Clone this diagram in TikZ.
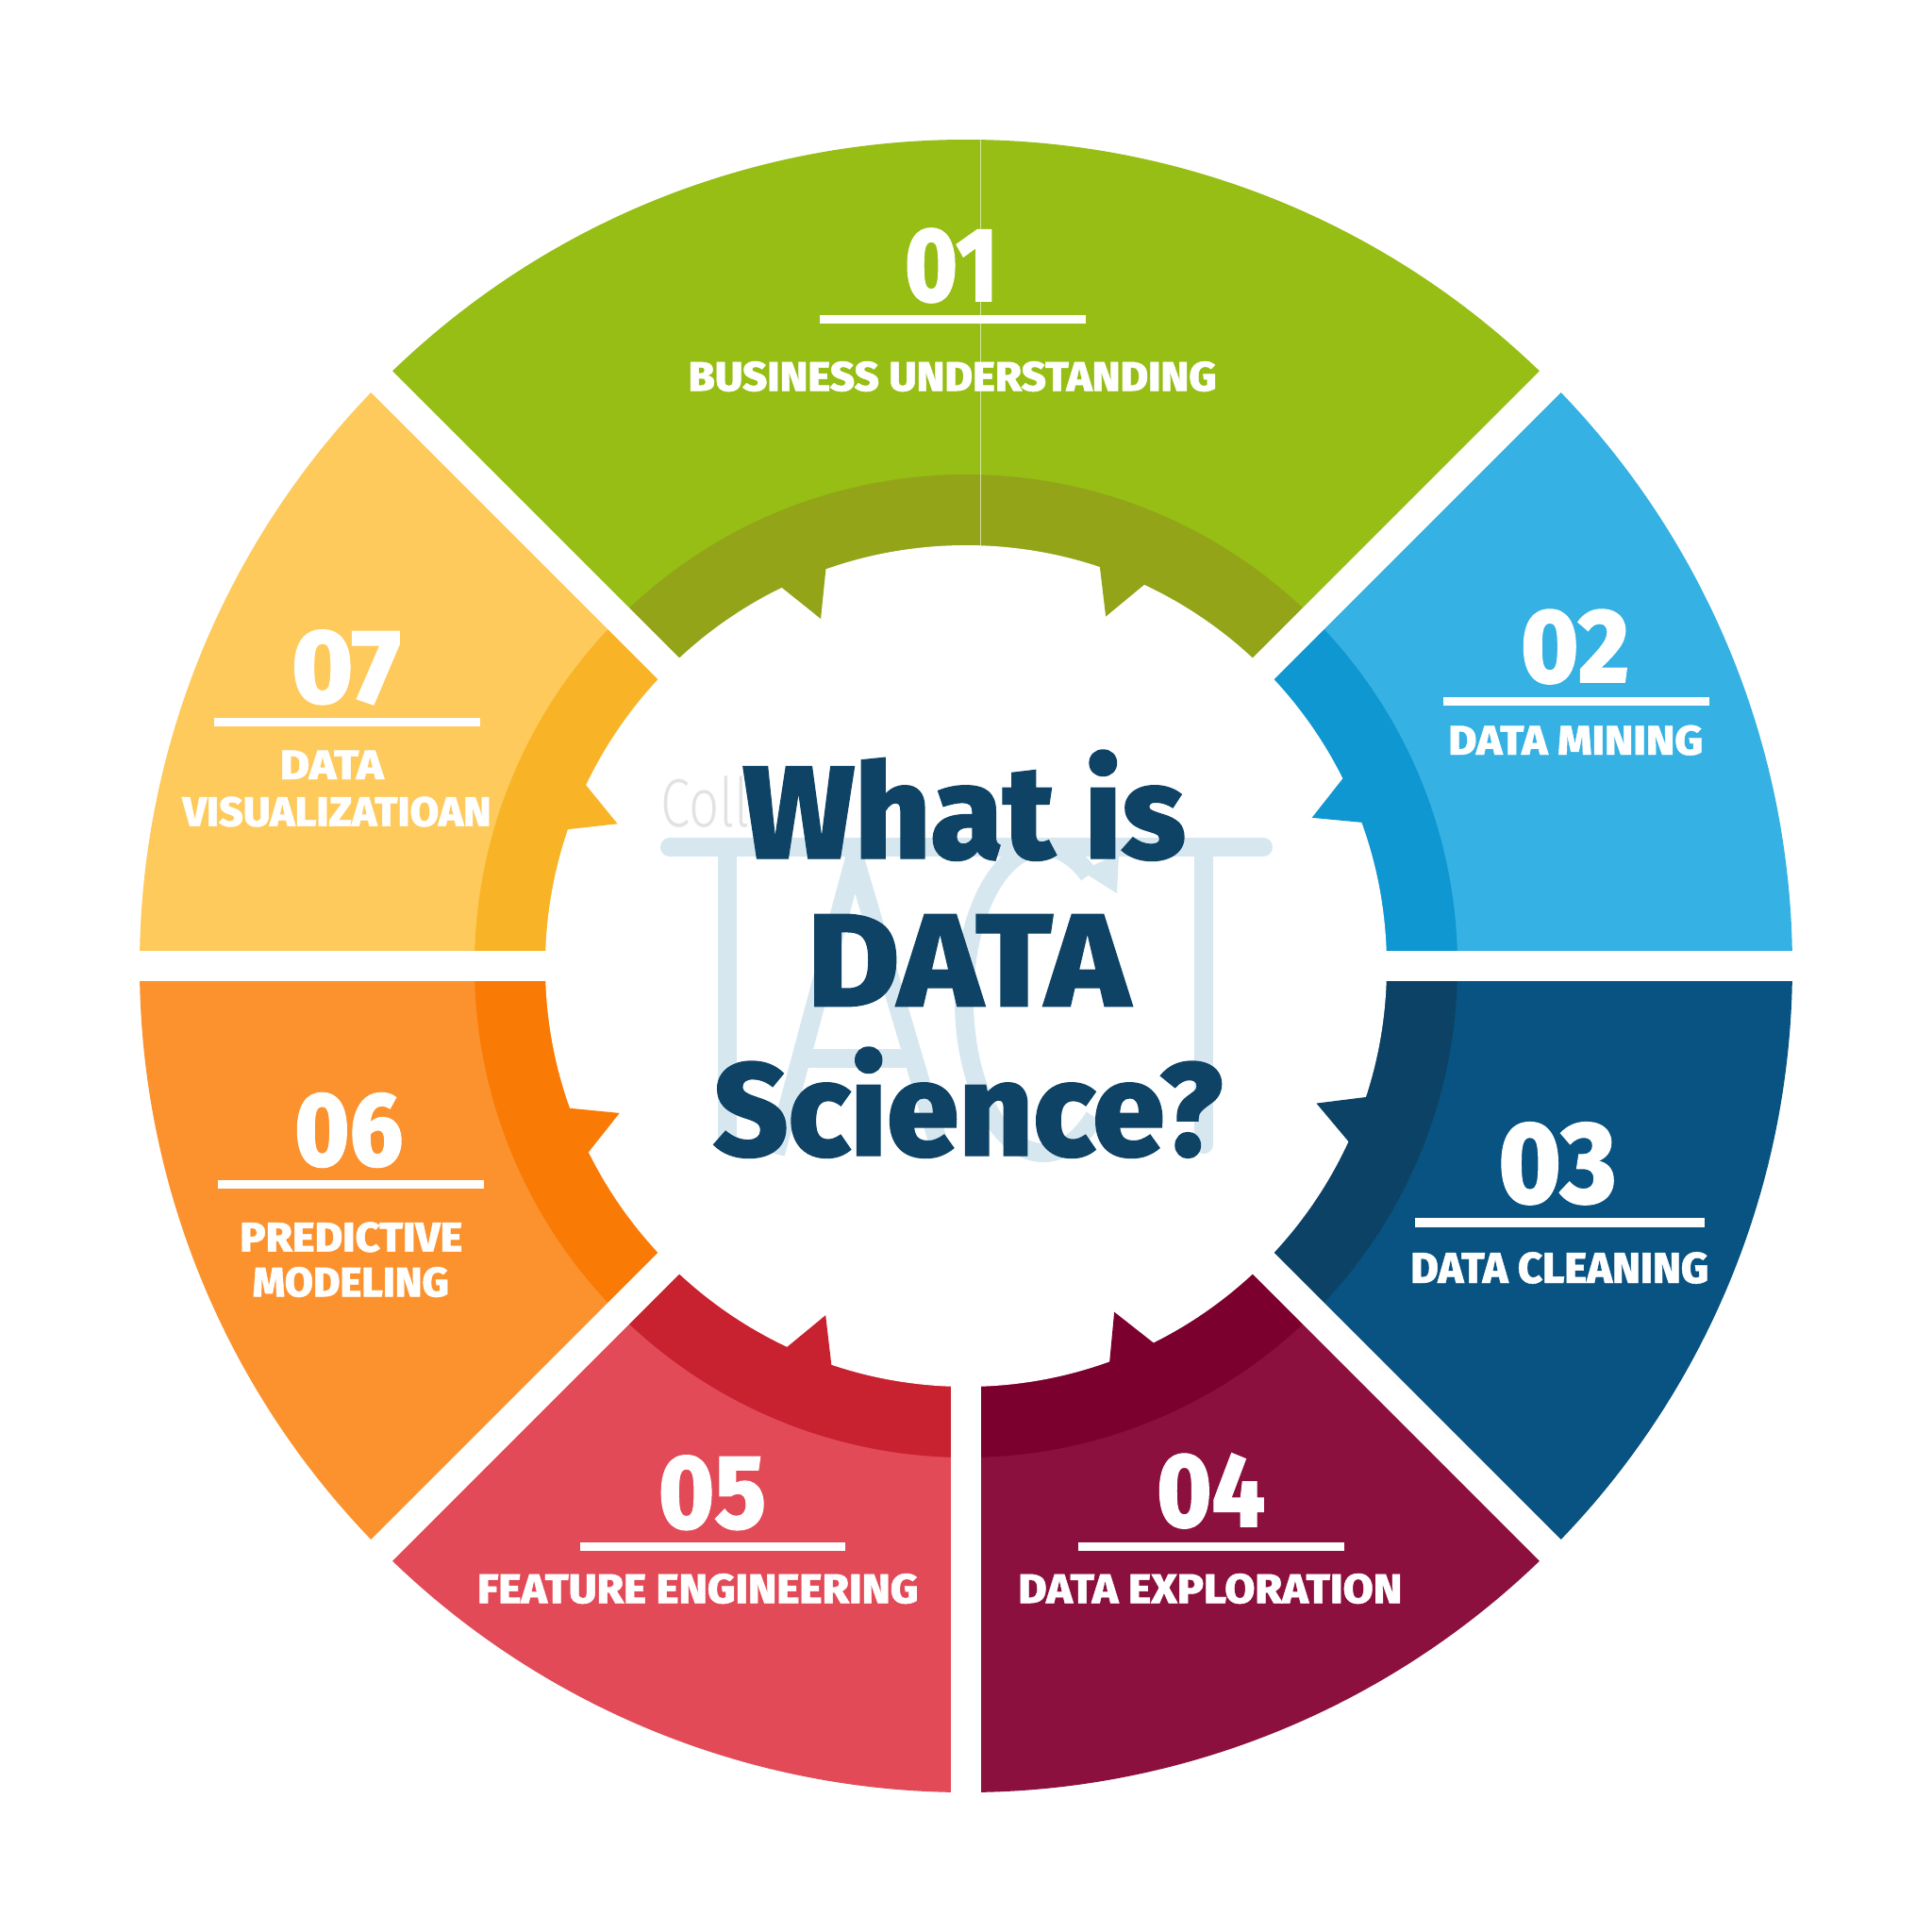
\documentclass[tikz,border=0pt]{standalone}
\usepackage{fontspec}
\usepackage{graphicx}
\setmainfont{Fira Sans}
\IfFontExistsTF{Fira Sans Heavy}{\newfontfamily\heavyfont{Fira Sans Heavy}}{%
 \IfFontExistsTF{FiraSans-Heavy.otf}{\newfontfamily\heavyfont{FiraSans-Heavy.otf}}{%
  \IfFontExistsTF{Fira Sans ExtraBold}{\newfontfamily\heavyfont{Fira Sans ExtraBold}[FakeBold=1]}{%
   \newfontfamily\heavyfont{Fira Sans}[UprightFont={* Bold}, UprightFeatures={FakeBold=2}]}}}
\IfFontExistsTF{Fira Sans Light}{\newfontfamily\lightfont{Fira Sans Light}}{\newfontfamily\lightfont{Fira Sans}}
\definecolor{g1}{HTML}{96BE14}\definecolor{g1d}{HTML}{93A419}
\definecolor{b2}{HTML}{35B1E3}\definecolor{b2d}{HTML}{0E97D0}
\definecolor{n3}{HTML}{085381}\definecolor{n3d}{HTML}{0C4266}
\definecolor{m4}{HTML}{8C103E}\definecolor{m4d}{HTML}{7C002E}
\definecolor{r5}{HTML}{E34A57}\definecolor{r5d}{HTML}{C8212F}
\definecolor{o6}{HTML}{FC922E}\definecolor{o6d}{HTML}{F97A05}
\definecolor{y7}{HTML}{FECA5C}\definecolor{y7d}{HTML}{F8B426}
\definecolor{navy}{HTML}{0E4366}
\definecolor{wmblue}{HTML}{D6E7F0}
\definecolor{wmgray}{HTML}{E2E2E2}
\newcommand\wfit[2]{\resizebox{#1}{\height}{#2}}
\tikzset{
  num/.style={text=white, inner sep=0, anchor=base, font={\heavyfont\fontsize{31.8pt}{32pt}\selectfont}},
  bignum/.style={num, font={\heavyfont\fontsize{35.1pt}{35pt}\selectfont}},
  lab/.style={text=white, inner sep=0, anchor=base, font={\heavyfont\fontsize{12.5pt}{13pt}\selectfont}},
  biglab/.style={lab, font={\heavyfont\fontsize{13.1pt}{13pt}\selectfont}},
  bar/.style={white, line width=0.09cm},
  ctext/.style={text=navy, inner sep=0, anchor=base, font={\heavyfont\fontsize{39.9pt}{40pt}\selectfont}},
  gap/.style={white, line width=0.32cm},
}
\begin{document}
\begin{tikzpicture}
\useasboundingbox (-10.24,-10.24) rectangle (10.24,10.24);
\fill[white] (-10.24,-10.24) rectangle (10.24,10.24);
% sectors
\foreach \a/\b/\cl/\cd in {45/135/g1/g1d, 0/45/b2/b2d, -45/0/n3/n3d, -90/-45/m4/m4d, -135/-90/r5/r5d, -180/-135/o6/o6d, 135/180/y7/y7d}{
  \fill[\cl] (0,0) -- (\a:8.76) arc[start angle=\a, end angle=\b, radius=8.76] -- cycle;
  \fill[\cd] (0,0) -- (\a:5.21) arc[start angle=\a, end angle=\b, radius=5.21] -- cycle;
}
\fill[white] (0,0) circle (4.46);
% teeth
\foreach \t/\cd in {112.7/g1d, 68.2/g1d, 23.2/b2d, -21.4/n3d, -66.8/m4d, -111.9/r5d, -157/o6d, 157.8/y7d}{
  \fill[\cd] (\t-3.6:4.52) -- (\t:3.99) -- (\t+3.6:4.52) -- cycle;
}
% gaps
\foreach \g in {0,45,135,180,225,270,315}{
  \draw[gap] (0,0) -- (\g:9.3);
}
% seam
\draw[white, opacity=0.6, line width=0.35pt] (0.155,4.457) -- (0.155,8.758);
% watermark
\node[anchor=base west, inner sep=0, text=wmgray, font={\lightfont\fontsize{20.6pt}{21pt}\selectfont}] (wmtext) at (-3.24,1.473) {\scalebox{0.78}[1]{Colla}};
\begin{scope}[wmblue, line width=0.2cm]
  \draw[line cap=round] (-3.14,1.26) -- (3.15,1.26);
  \draw[line cap=round] (-2.527,1.26) -- (-2.527,-1.89);
  \draw[line cap=round] (2.524,1.26) -- (2.524,-1.89);
  \draw[line join=round] (-2.02,-1.99) -- (-1.18,1.14) -- (-0.26,-1.99);
  \draw (-1.76,-0.98) -- (-0.55,-0.98);
  \draw (0.82,-0.36) ++(55:0.84 and 1.62) arc[start angle=55, end angle=310, x radius=0.84, y radius=1.62];
  \fill (1.22,1.01) -- (1.62,1.19) -- (1.60,0.77) -- cycle;
\end{scope}
% centre text
\node[ctext] (t1) at (-0.018,1.14) {\wfit{4.70cm}{What is}};
\node[ctext] (t2) at (0.027,-0.427) {\wfit{3.42cm}{DATA}};
\node[ctext] (t3) at (0.02,-2.01) {\wfit{5.40cm}{Science?}};
% 01
\node[num] (d1) at (-0.155,7.048) {\wfit{0.99cm}{01}};
\draw[bar] (-1.55,6.852) -- (1.27,6.852);
\node[lab] (l1) at (-0.142,6.097) {\wfit{5.60cm}{BUSINESS UNDERSTANDING}};
% 02
\node[num] (d2) at (6.455,3.007) {\wfit{1.15cm}{02}};
\draw[bar] (5.06,2.807) -- (7.877,2.807);
\node[lab] (l2) at (6.463,2.24) {\wfit{2.70cm}{DATA MINING}};
% 03
\node[bignum] (d3) at (6.268,-2.51) {\wfit{1.25cm}{03}};
\draw[bar, line width=0.097cm] (4.76,-2.718) -- (7.827,-2.718);
\node[biglab] (l3) at (6.293,-3.36) {\wfit{3.16cm}{DATA CLEANING}};
% 04
\node[num] (d4) at (2.597,-5.943) {\wfit{1.15cm}{04}};
\draw[bar] (1.187,-6.157) -- (4.009,-6.157);
\node[lab] (l4) at (2.588,-6.753) {\wfit{4.07cm}{DATA EXPLORATION}};
% 05
\node[num] (d5) at (-2.69,-5.96) {\wfit{1.14cm}{05}};
\draw[bar] (-4.091,-6.157) -- (-1.275,-6.157);
\node[lab] (l5) at (-2.841,-6.753) {\wfit{4.675cm}{FEATURE ENGINEERING}};
% 06
\node[num] (d6) at (-6.543,-2.117) {\wfit{1.15cm}{06}};
\draw[bar] (-7.933,-2.315) -- (-5.113,-2.315);
\node[lab] (l6a) at (-6.517,-3.027) {\wfit{2.36cm}{PREDICTIVE}};
\node[lab] (l6b) at (-6.522,-3.503) {\wfit{2.08cm}{MODELING}};
% 07
\node[num] (d7) at (-6.57,2.79) {\wfit{1.16cm}{07}};
\draw[bar] (-7.973,2.59) -- (-5.15,2.59);
\node[lab] (l7a) at (-6.723,1.98) {\wfit{1.10cm}{DATA}};
\node[lab] (l7b) at (-6.67,1.483) {\wfit{3.27cm}{VISUALIZATIOAN}};
\end{tikzpicture}
\end{document}
